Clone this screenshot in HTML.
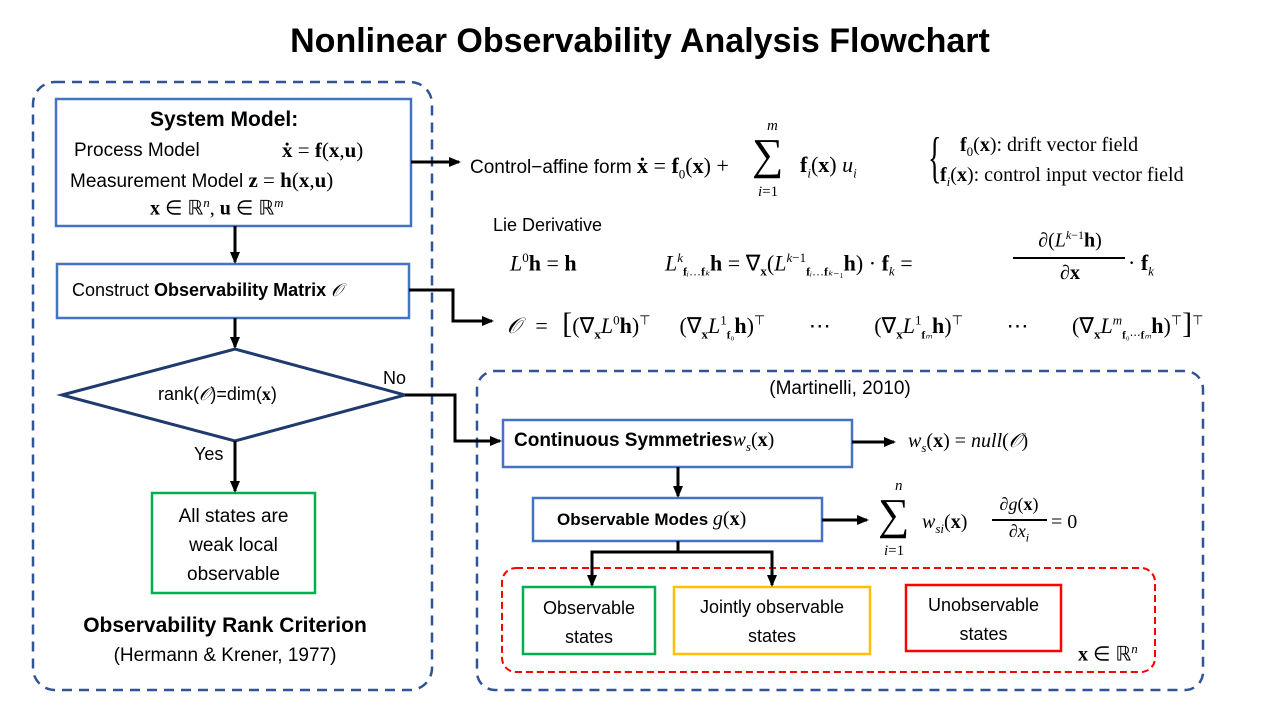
<!DOCTYPE html>
<html><head><meta charset="utf-8"><style>
body{margin:0;width:1280px;height:720px;background:#fff;position:relative;overflow:hidden;font-family:"Liberation Sans",sans-serif;color:#000}
.t{position:absolute;white-space:nowrap}
.m{font-family:"Liberation Serif",serif}
.c{text-align:center}
</style></head><body>
<svg width="1280" height="720" style="position:absolute;left:0;top:0">
<defs><marker id="a" markerWidth="12" markerHeight="12" refX="10" refY="6" orient="auto" markerUnits="userSpaceOnUse"><path d="M0,1 L12,6 L0,11 z" fill="#000"/></marker></defs>
<rect x="33" y="82" width="399" height="608" rx="22" fill="none" stroke="#2F5597" stroke-width="2.5" stroke-dasharray="10,7"/>
<rect x="477" y="371" width="726" height="319" rx="18" fill="none" stroke="#2F5597" stroke-width="2.5" stroke-dasharray="10,7"/>
<rect x="502" y="568" width="653" height="104" rx="14" fill="none" stroke="#FF0000" stroke-width="2" stroke-dasharray="7,4"/>
<rect x="56" y="99" width="355" height="127" fill="#fff" stroke="#4472C4" stroke-width="2.5"/>
<rect x="57" y="264" width="352" height="54" fill="#fff" stroke="#4472C4" stroke-width="2.5"/>
<polygon points="62,395 235,349 405,395 235,441" fill="#fff" stroke="#1F3A6E" stroke-width="3"/>
<rect x="152" y="493" width="163" height="100" fill="#fff" stroke="#00B050" stroke-width="2.5"/>
<rect x="503" y="420" width="349" height="47" fill="#fff" stroke="#4472C4" stroke-width="2.5"/>
<rect x="533" y="498" width="289" height="43" fill="#fff" stroke="#4472C4" stroke-width="2.5"/>
<rect x="523" y="587" width="132" height="67" fill="#fff" stroke="#00B050" stroke-width="2.5"/>
<rect x="674" y="587" width="196" height="67" fill="#fff" stroke="#FFC000" stroke-width="2.5"/>
<rect x="906" y="585" width="155" height="66" fill="#fff" stroke="#FF0000" stroke-width="2.5"/>
<g stroke="#000" stroke-width="3" fill="none">
<line x1="235" y1="226" x2="235" y2="262" marker-end="url(#a)"/>
<line x1="235" y1="318" x2="235" y2="347" marker-end="url(#a)"/>
<line x1="235" y1="441" x2="235" y2="491" marker-end="url(#a)"/>
<line x1="411" y1="162" x2="459" y2="162" marker-end="url(#a)"/>
<polyline points="409,290 453,290 453,321 492,321" marker-end="url(#a)"/>
<polyline points="405,395 455,395 455,441 500,441" marker-end="url(#a)"/>
<line x1="852" y1="442" x2="894" y2="442" marker-end="url(#a)"/>
<line x1="678" y1="467" x2="678" y2="496" marker-end="url(#a)"/>
<line x1="822" y1="520" x2="867" y2="520" marker-end="url(#a)"/>
<polyline points="678,541 678,552 592,552 592,585" marker-end="url(#a)"/>
<polyline points="678,552 772,552 772,585" marker-end="url(#a)"/>
</g>
</svg>
<div class="t c" style="left:0;width:1280px;top:22px;font-size:34px;font-weight:bold">Nonlinear Observability Analysis Flowchart</div>
<div class="t" style="left:150px;top:108px;font-size:21px;font-weight:bold">System Model:</div>
<div class="t" style="left:74px;top:140px;font-size:19px">Process Model</div>
<div class="t m" style="left:282px;top:138px;font-size:21px"><b>ẋ</b> = <b>f</b>(<b>x</b>,<b>u</b>)</div>
<div class="t" style="left:70px;top:168px;font-size:19px">Measurement Model <span class="m" style="font-size:21px"><b>z</b> = <b>h</b>(<b>x</b>,<b>u</b>)</span></div>
<div class="t m" style="left:150px;top:195px;font-size:20px"><b>x</b> ∈ ℝ<sup style="font-size:13px"><i>n</i></sup>, <b>u</b> ∈ ℝ<sup style="font-size:13px"><i>m</i></sup></div>
<div class="t" style="left:72px;top:280px;font-size:18px">Construct <b>Observability Matrix</b> <i class="m">𝒪</i></div>
<div class="t" style="left:158px;top:384px;font-size:18px">rank(<i class="m">𝒪</i>)=dim(<b class="m">x</b>)</div>
<div class="t" style="left:383px;top:368px;font-size:18px">No</div>
<div class="t" style="left:194px;top:444px;font-size:18px">Yes</div>
<div class="t c" style="left:152px;width:163px;top:502px;font-size:19px;line-height:29px;white-space:normal">All states are<br>weak local<br>observable</div>
<div class="t c" style="left:20px;width:410px;top:614px;font-size:21px;font-weight:bold">Observability Rank Criterion</div>
<div class="t c" style="left:20px;width:410px;top:645px;font-size:19px">(Hermann &amp; Krener, 1977)</div>
<div class="t" style="left:470px;top:153px;font-size:19px">Control−affine form <span class="m" style="font-size:22px"><b>ẋ</b> = <b>f</b><sub style="font-size:13px">0</sub>(<b>x</b>) +</span></div>
<div class="t m" style="left:767px;top:118px;font-size:15px"><i>m</i></div>
<div class="t m" style="left:752px;top:130px;font-size:44px;line-height:50px">∑</div>
<div class="t m" style="left:758px;top:184px;font-size:15px"><i>i</i>=1</div>
<div class="t m" style="left:800px;top:152px;font-size:22px"><b>f</b><sub style="font-size:13px"><i>i</i></sub>(<b>x</b>) <i>u<sub style="font-size:13px">i</sub></i></div>
<div class="t m" style="left:928px;top:128px;font-size:56px;line-height:60px;transform:scaleX(0.5);transform-origin:left">{</div>
<div class="t m" style="left:960px;top:134px;font-size:20px"><b>f</b><sub style="font-size:13px">0</sub>(<b>x</b>): drift vector field</div>
<div class="t m" style="left:940px;top:164px;font-size:20px"><b>f</b><sub style="font-size:13px"><i>i</i></sub>(<b>x</b>): control input vector field</div>
<div class="t" style="left:493px;top:215px;font-size:18px">Lie Derivative</div>
<div class="t m" style="left:510px;top:250px;font-size:22px"><i>L</i><sup style="font-size:13px">0</sup><b>h</b> = <b>h</b></div>
<div class="t m" style="left:665px;top:250px;font-size:22px"><i>L</i><sup style="font-size:13px"><i>k</i></sup><sub style="font-size:12px"><b>f</b><i>ᵢ</i>…<b>f</b><i>ₖ</i></sub><b>h</b> = ∇<sub style="font-size:13px"><b>x</b></sub>(<i>L</i><sup style="font-size:13px"><i>k</i>−1</sup><sub style="font-size:12px"><b>f</b><i>ᵢ</i>…<b>f</b><i>ₖ</i>₋₁</sub><b>h</b>) · <b>f</b><sub style="font-size:13px"><i>k</i></sub> =</div>
<div class="t m c" style="left:1010px;width:120px;top:228px;font-size:20px">∂(<i>L</i><sup style="font-size:12px"><i>k</i>−1</sup><b>h</b>)</div>
<div style="position:absolute;left:1013px;top:257px;width:112px;height:1.5px;background:#000"></div>
<div class="t m c" style="left:1010px;width:120px;top:262px;font-size:20px">∂<b>x</b></div>
<div class="t m" style="left:1128px;top:250px;font-size:22px">· <b>f</b><sub style="font-size:13px"><i>k</i></sub></div>
<div class="t m" style="left:507px;top:307px;font-size:22px;word-spacing:9px"><i>𝒪</i> = <span style="font-size:30px">[</span>(∇<sub style="font-size:13px"><b>x</b></sub><i>L</i><sup style="font-size:13px">0</sup><b>h</b>)<sup style="font-size:13px">⊤</sup> &nbsp;(∇<sub style="font-size:13px"><b>x</b></sub><i>L</i><sup style="font-size:13px">1</sup><sub style="font-size:11px"><b>f</b>₀</sub><b>h</b>)<sup style="font-size:13px">⊤</sup> &nbsp; ⋯ &nbsp; (∇<sub style="font-size:13px"><b>x</b></sub><i>L</i><sup style="font-size:13px">1</sup><sub style="font-size:11px"><b>f</b><i>ₘ</i></sub><b>h</b>)<sup style="font-size:13px">⊤</sup> &nbsp; ⋯ &nbsp; (∇<sub style="font-size:13px"><b>x</b></sub><i>L</i><sup style="font-size:13px"><i>m</i></sup><sub style="font-size:11px"><b>f</b>₀⋯<b>f</b><i>ₘ</i></sub><b>h</b>)<sup style="font-size:13px">⊤</sup><span style="font-size:30px">]</span><sup style="font-size:13px">⊤</sup></div>
<div class="t c" style="left:477px;width:726px;top:378px;font-size:19px">(Martinelli, 2010)</div>
<div class="t" style="left:514px;top:429px;font-size:19px;font-weight:bold">Continuous Symmetries<span class="m" style="font-weight:normal;font-size:20px"><i>w<sub style="font-size:13px">s</sub></i>(<b>x</b>)</span></div>
<div class="t m" style="left:908px;top:430px;font-size:20px"><i>w<sub style="font-size:13px">s</sub></i>(<b>x</b>) = <i>null</i>(<i>𝒪</i>)</div>
<div class="t" style="left:557px;top:508px;font-size:17px;font-weight:bold">Observable Modes <span class="m" style="font-weight:normal;font-size:20px"><i>g</i>(<b>x</b>)</span></div>
<div class="t m" style="left:895px;top:478px;font-size:15px"><i>n</i></div>
<div class="t m" style="left:878px;top:490px;font-size:44px;line-height:50px">∑</div>
<div class="t m" style="left:884px;top:543px;font-size:15px"><i>i</i>=1</div>
<div class="t m" style="left:922px;top:511px;font-size:20px"><i>w<sub style="font-size:13px">si</sub></i>(<b>x</b>)</div>
<div class="t m c" style="left:990px;width:58px;top:494px;font-size:18px">∂<i>g</i>(<b>x</b>)</div>
<div style="position:absolute;left:992px;top:519px;width:55px;height:1.5px;background:#000"></div>
<div class="t m c" style="left:990px;width:58px;top:521px;font-size:18px">∂<i>x<sub style="font-size:12px">i</sub></i></div>
<div class="t m" style="left:1051px;top:511px;font-size:20px">= 0</div>
<div class="t c" style="left:523px;width:132px;top:594px;font-size:18px;line-height:29px">Observable<br>states</div>
<div class="t c" style="left:674px;width:196px;top:593px;font-size:18px;line-height:29px">Jointly observable<br>states</div>
<div class="t c" style="left:906px;width:155px;top:591px;font-size:18px;line-height:29px">Unobservable<br>states</div>
<div class="t m" style="left:1078px;top:641px;font-size:20px"><b>x</b> ∈ ℝ<sup style="font-size:13px"><i>n</i></sup></div>
</body></html>
